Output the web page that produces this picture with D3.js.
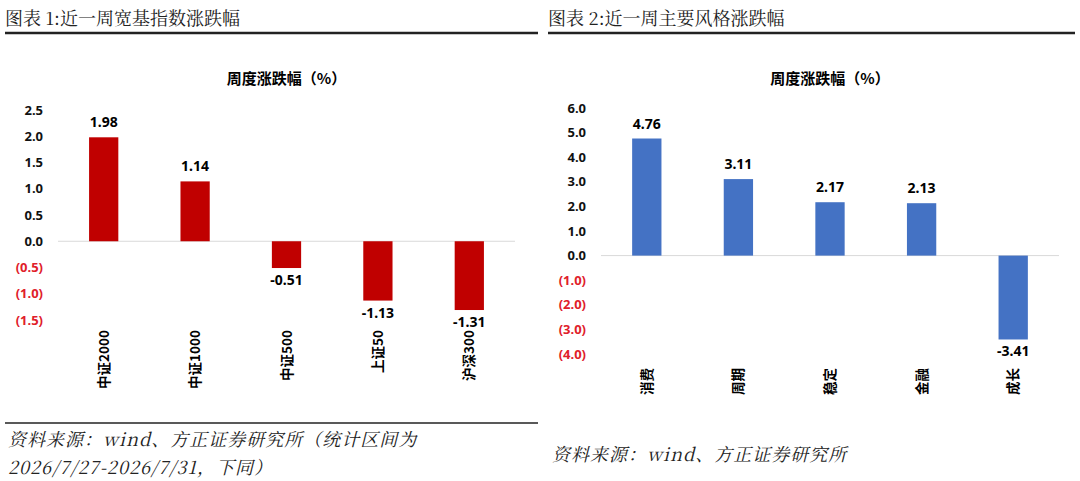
<!DOCTYPE html>
<html><head><meta charset="utf-8">
<script src="https://cdn.jsdelivr.net/npm/d3@7"></script>
<style>body{margin:0;background:#fff;}svg{display:block;font-family:"Noto Sans CJK SC","Noto Sans",sans-serif;}</style>
</head><body><svg id="c" width="1080" height="481"></svg>
<script>
const cats1 = ["中证2000","中证1000","中证500","上证50","沪深300"];
const vals1 = [1.98,1.14,-0.51,-1.13,-1.31];
const ticks1 = [2.5,2.0,1.5,1.0,0.5,0,-0.5,-1.0,-1.5];
const cats2 = ["消费","周期","稳定","金融","成长"];
const vals2 = [4.76,3.11,2.17,2.13,-3.41];
const ticks2 = [6,5,4,3,2,1,0,-1,-2,-3,-4];
const svg = d3.select("#c");
function fmt(v){ return v<0 ? "("+Math.abs(v).toFixed(1)+")" : v.toFixed(1); }
function panel(o){
  const g = svg.append("g");
  g.append("text").attr("x",o.x0).attr("y",25).attr("font-size",18).attr("font-family","Noto Serif CJK SC, Noto Sans CJK SC").attr("fill","#222").text(o.title);
  g.append("line").attr("x1",o.x0).attr("x2",o.x1).attr("y1",33).attr("y2",33).attr("stroke","#222").attr("stroke-width",2.5);
  g.append("text").attr("x",(o.b0+o.b1)/2).attr("y",84).attr("text-anchor","middle").attr("font-size",15).attr("font-weight","bold").text("周度涨跌幅（%）");
  const x = d3.scaleBand().domain(o.cats).range([o.b0,o.b1]).paddingInner(0.68).paddingOuter(0.34);
  const y = d3.scaleLinear().domain(o.dom).range(o.yr);
  const ax = g.append("g").attr("transform",`translate(${o.b0-12},0)`).call(d3.axisLeft(y).tickValues(o.ticks).tickFormat(fmt).tickSize(0));
  ax.select(".domain").remove();
  ax.selectAll("text").attr("font-size",13).attr("font-weight","bold").attr("font-family","Noto Sans").attr("fill",d=>d<0?"#e0202a":"#111");
  g.append("line").attr("x1",o.b0).attr("x2",o.b1).attr("y1",y(0)).attr("y2",y(0)).attr("stroke","#d9d9d9");
  g.selectAll("rect.b").data(o.vals).join("rect").attr("x",(d,i)=>x(o.cats[i])).attr("width",x.bandwidth())
    .attr("y",d=>y(Math.max(0,d))).attr("height",d=>Math.abs(y(d)-y(0))).attr("fill",o.color);
  g.selectAll("text.v").data(o.vals).join("text").attr("x",(d,i)=>x(o.cats[i])+x.bandwidth()/2)
    .attr("y",d=>d>=0?y(d)-10:y(d)+17).attr("text-anchor","middle").attr("font-size",14).attr("font-weight","bold").attr("font-family","Noto Sans").text(d=>d.toFixed(2));
  g.selectAll("text.c").data(o.cats).join("text")
    .attr("transform",d=>`translate(${x(d)+x.bandwidth()/2+5},${o.ly}) rotate(-90)`)
    .attr("text-anchor","end").attr("font-size",13.5).attr("font-weight","bold").text(d=>d);
}
panel({title:"图表 1:近一周宽基指数涨跌幅",x0:5,x1:538,b0:58,b1:515,cats:cats1,vals:vals1,ticks:ticks1,dom:[-1.5,2.5],yr:[320,110],color:"#C00000",ly:330});
panel({title:"图表 2:近一周主要风格涨跌幅",x0:548,x1:1075,b0:601,b1:1059,cats:cats2,vals:vals2,ticks:ticks2,dom:[-4,6],yr:[354,108],color:"#4472C4",ly:368});
svg.append("line").attr("x1",5).attr("x2",538).attr("y1",423).attr("y2",423).attr("stroke","#222").attr("stroke-width",1.5);
const src = svg.append("g").attr("font-size",18).attr("font-style","italic").attr("fill","#222").attr("font-family","Noto Serif CJK SC, Noto Sans CJK SC");
src.append("text").attr("x",8).attr("y",446).attr("letter-spacing",1).text("资料来源：wind、方正证券研究所（统计区间为");
src.append("text").attr("x",8).attr("y",474).attr("letter-spacing",1).text("2026/7/27-2026/7/31，下同）");
src.append("text").attr("x",552).attr("y",461).attr("letter-spacing",1).text("资料来源：wind、方正证券研究所");
</script></body></html>
